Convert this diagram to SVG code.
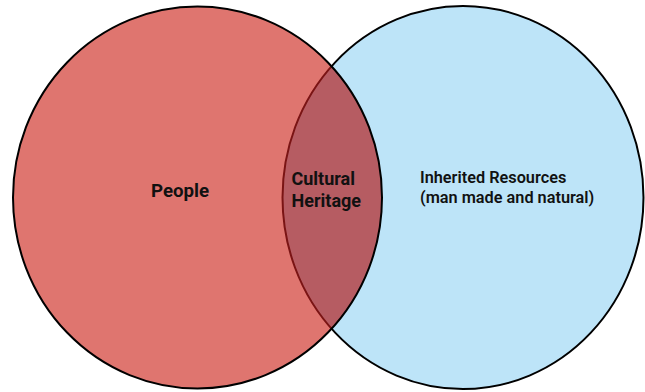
<svg xmlns="http://www.w3.org/2000/svg" width="645" height="392" viewBox="0 0 645 392">
  <defs>
    <style>
      .label { font-family: Roboto, "Liberation Sans", sans-serif; fill: #111111; }
      .big { font-size: 18.7px; font-weight: 700; }
      .mid { font-size: 18px; font-weight: 700; }
      .small { font-size: 16.3px; font-weight: 600; }
    </style>
    <clipPath id="clip-resources">
      <ellipse cx="463" cy="197.5" rx="180.5" ry="191.5"/>
    </clipPath>
    <clipPath id="clip-people">
      <ellipse cx="197.5" cy="197.5" rx="184.5" ry="191"/>
    </clipPath>
  </defs>

  <rect width="645" height="392" fill="#ffffff"/>

  <!-- Inherited Resources set -->
  <g id="resources">
    <ellipse cx="463" cy="197.5" rx="180.5" ry="191.5" fill="#BDE4F8" stroke="#000000" stroke-width="2"/>
    <text class="label small" x="420" y="183">Inherited Resources</text>
    <text class="label small" x="420" y="202.5">(man made and natural)</text>
  </g>

  <!-- People set -->
  <g id="people">
    <ellipse cx="197.5" cy="197.5" rx="184.5" ry="191" fill="#DF756F"/>
    <text class="label big" x="151" y="196.5">People</text>
  </g>

  <!-- Overlap: Cultural Heritage -->
  <g id="heritage">
    <ellipse cx="197.5" cy="197.5" rx="184.5" ry="191" fill="#B65C62" clip-path="url(#clip-resources)"/>
    <ellipse cx="463" cy="197.5" rx="180.5" ry="191.5" fill="none" stroke="#7A1414" stroke-width="2" clip-path="url(#clip-people)"/>
    <ellipse cx="197.5" cy="197.5" rx="184.5" ry="191" fill="none" stroke="#000000" stroke-width="2"/>
    <text class="label mid" x="291.5" y="185">Cultural</text>
    <text class="label mid" x="291.5" y="206.5">Heritage</text>
  </g>
</svg>
